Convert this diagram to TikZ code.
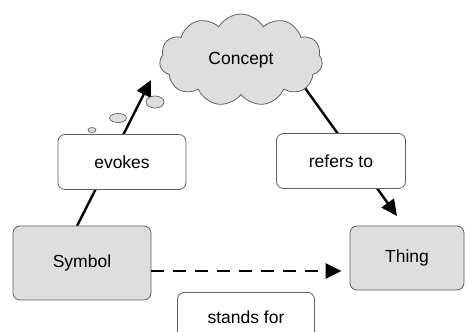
\documentclass[tikz,border=0pt]{standalone}
\usepackage{fontspec}
\setmainfont{Liberation Sans}
\usetikzlibrary{shapes.symbols,shapes.geometric,arrows.meta,backgrounds}
\definecolor{boxgray}{HTML}{DEDEDE}
\definecolor{edgegray}{HTML}{606060}
\tikzset{
  x=1pt,y=-1pt,
  txt/.style={font=\fontsize{17.5}{19}\selectfont},
  lbl/.style={txt,draw=edgegray,line width=0.8pt,rounded corners=7pt,fill=white,inner sep=0pt},
  term/.style={lbl,fill=boxgray},
  puff/.style={ellipse,draw=edgegray,line width=0.7pt,fill=boxgray,inner sep=0pt},
  conn/.style={line width=2.4pt,-{Triangle[length=16pt,width=15pt]}},
}
\begin{document}
\begin{tikzpicture}
\useasboundingbox (0,0) rectangle (467,332);
\node[cloud,cloud puffs=11,cloud puff arc=120,aspect=1.8,draw=edgegray,line width=0.8pt,fill=boxgray,
  minimum width=163pt,minimum height=92pt,inner sep=0pt,txt] (concept) at (241,60) {Concept};
\node[puff,minimum width=18pt,minimum height=12pt] (p1) at (155,102) {};
\node[puff,minimum width=17pt,minimum height=9pt] (p2) at (118,118) {};
\node[puff,minimum width=8pt,minimum height=5pt] (p3) at (92,130) {};
\node[lbl,minimum width=128pt,minimum height=55pt] (evokes) at (122,162) {evokes};
\node[lbl,minimum width=129pt,minimum height=55pt] (refers) at (341,161) {refers to};
\node[term,minimum width=138pt,minimum height=74pt] (symbol) at (82,263) {Symbol};
\node[term,minimum width=114pt,minimum height=64pt] (thing) at (407,258) {Thing};
\node[lbl,minimum width=137pt,minimum height=56pt,anchor=north] (stands) at (246,292) {};
\node[txt] (standstxt) at (246,317) {stands for};
\coordinate (evstart) at (77,226);
\coordinate (evtip) at (151,80);
\coordinate (rfstart) at (305,88);
\coordinate (rftip) at (397,216);
\begin{scope}[on background layer]
\draw[conn] (evstart) -- (evtip);
\draw[conn] (rfstart) -- (rftip);
\end{scope}
\draw[conn,dash pattern=on 13pt off 9pt,shorten >=8pt] (symbol.east |- 0,271) -- (thing.west |- 0,271);
\end{tikzpicture}
\end{document}
